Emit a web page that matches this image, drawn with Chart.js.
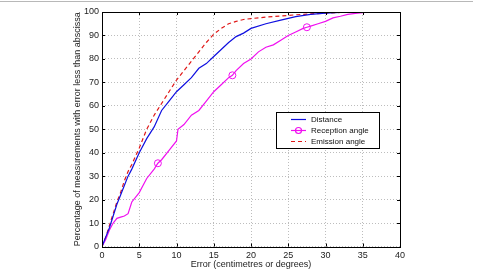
<!DOCTYPE html>
<html lang="en">
<head>
    <meta charset="UTF-8">
    <title>Error distribution</title>
    <script src="https://cdn.jsdelivr.net/npm/chart.js"></script>
    <style>
        html, body {
            margin: 0;
            padding: 0;
            background-color: #fff;
        }
        #chartContainer {
            width: 480px;
            height: 274px;
        }
    </style>
</head>
<body>
    <div id="chartContainer">
        <canvas id="errorChart" width="480" height="274"></canvas>
    </div>

    <script>
        // Values
        const xTicks = [0, 5, 10, 15, 20, 25, 30, 35, 40];
        const yTicks = [0, 10, 20, 30, 40, 50, 60, 70, 80, 90, 100];

        const distanceX = [0, 0.5, 1, 1.5, 2, 2.5, 3, 3.5, 4, 5, 6, 7, 8, 9, 10, 11, 12, 13, 14, 15, 16, 17, 18, 19, 20, 22, 24, 26, 28, 30, 32, 34, 40];
        const distanceY = [0, 4, 8, 13, 18, 22, 26, 30, 33, 40, 46, 51, 58, 62, 66, 69, 72, 76, 78, 81, 84, 87, 89.5, 91, 93, 95, 96.5, 98, 99, 99.5, 99.8, 100, 100];

        const receptionX = [0, 0.5, 1, 1.5, 2, 2.5, 3, 3.5, 4, 5, 6, 7, 7.5, 8, 9, 10, 10.2, 11, 12, 13, 14, 15, 16, 17, 17.5, 18, 19, 20, 21, 22, 23, 24, 25, 26, 27, 27.5, 28, 29, 30, 31, 32, 33, 34, 36, 40];
        const receptionY = [0, 3, 7, 10, 12, 12.5, 13, 14, 19, 23, 29, 33, 35.5, 37, 41, 45, 50, 52, 56, 58, 62, 66, 69, 72, 73, 75, 78, 80, 83, 85, 86, 88, 90, 91.5, 93, 93.5, 94, 95, 96, 97.5, 98.2, 99, 99.4, 100, 100];
        const receptionMarkers = [7.5, 17.5, 27.5];

        const emissionX = [0, 0.5, 1, 1.5, 2, 2.5, 3, 3.5, 4, 5, 6, 7, 8, 9, 10, 11, 12, 13, 14, 15, 16, 17, 18, 19, 20, 22, 24, 26, 28, 30, 32, 34, 40];
        const emissionY = [0, 4, 9, 14, 19, 23, 28, 32, 35, 42, 50, 56, 61, 66, 71, 75, 79, 83, 87, 90.5, 93, 95, 96, 96.8, 97.2, 97.8, 98.3, 98.8, 99.2, 99.5, 99.8, 100, 100];

        const FONT = "'Liberation Sans', Arial, sans-serif";

        function toPoints(xs, ys) {
            return xs.map((x, i) => ({ x: x, y: ys[i] }));
        }

        // Frame, inside tick marks, legend box and the thin top rule
        const framePlugin = {
            id: 'frame',
            beforeDraw(chart) {
                const ctx = chart.ctx;
                ctx.save();
                ctx.strokeStyle = '#b8b8b8';
                ctx.lineWidth = 1;
                ctx.beginPath();
                ctx.moveTo(0, 1.5);
                ctx.lineTo(473, 1.5);
                ctx.stroke();
                ctx.restore();
            },
            afterDraw(chart) {
                const ctx = chart.ctx;
                const a = chart.chartArea;
                const xs = chart.scales.x;
                const ys = chart.scales.y;
                ctx.save();
                ctx.strokeStyle = '#000';
                ctx.lineWidth = 1;
                ctx.strokeRect(Math.round(a.left) + 0.5, Math.round(a.top) + 0.5,
                    Math.round(a.right - a.left), Math.round(a.bottom - a.top));

                ctx.beginPath();
                xTicks.forEach(v => {
                    const px = Math.round(xs.getPixelForValue(v)) + 0.5;
                    ctx.moveTo(px, a.bottom); ctx.lineTo(px, a.bottom - 3);
                    ctx.moveTo(px, a.top); ctx.lineTo(px, a.top + 3);
                });
                yTicks.forEach(v => {
                    const py = Math.round(ys.getPixelForValue(v)) + 0.5;
                    ctx.moveTo(a.left, py); ctx.lineTo(a.left + 3, py);
                    ctx.moveTo(a.right, py); ctx.lineTo(a.right - 3, py);
                });
                ctx.stroke();

                // legend inside the plot
                const lx = 276, ly = 112, lw = 103, lh = 36;
                ctx.fillStyle = '#fff';
                ctx.fillRect(lx, ly, lw, lh);
                ctx.strokeStyle = '#000';
                ctx.strokeRect(lx + 0.5, ly + 0.5, lw, lh);
                ctx.font = '8px ' + FONT;
                ctx.textBaseline = 'middle';
                chart.data.datasets.forEach((ds, i) => {
                    const yy = ly + 7 + i * 11;
                    ctx.strokeStyle = ds.borderColor;
                    ctx.lineWidth = 1.2;
                    ctx.setLineDash(ds.borderDash || []);
                    ctx.beginPath();
                    ctx.moveTo(lx + 15, yy + 0.5);
                    ctx.lineTo(lx + 30, yy + 0.5);
                    ctx.stroke();
                    ctx.setLineDash([]);
                    if (ds.label === 'Reception angle') {
                        ctx.beginPath();
                        ctx.arc(lx + 22.5, yy + 0.5, 3, 0, Math.PI * 2);
                        ctx.stroke();
                    }
                    ctx.fillStyle = '#111';
                    ctx.fillText(ds.label, lx + 35, yy + 1);
                });
                ctx.restore();
            }
        };

        function renderChart() {
            const ctx = document.getElementById('errorChart').getContext('2d');
            new Chart(ctx, {
                type: 'line',
                data: {
                    datasets: [{
                        label: 'Distance',
                        data: toPoints(distanceX, distanceY),
                        borderColor: '#1010e0',
                        borderWidth: 1.2,
                        pointRadius: 0
                    }, {
                        label: 'Reception angle',
                        data: toPoints(receptionX, receptionY),
                        borderColor: '#f010f0',
                        borderWidth: 1.2,
                        pointRadius: c => receptionMarkers.includes(receptionX[c.dataIndex]) ? 3.5 : 0,
                        pointBorderColor: '#f010f0',
                        pointBackgroundColor: 'rgba(0,0,0,0)',
                        pointBorderWidth: 1
                    }, {
                        label: 'Emission angle',
                        data: toPoints(emissionX, emissionY),
                        borderColor: '#e01818',
                        borderDash: [4, 3],
                        borderWidth: 1.2,
                        pointRadius: 0
                    }]
                },
                options: {
                    responsive: false,
                    animation: false,
                    layout: {
                        padding: { left: 68, right: 80, top: 12, bottom: 0 }
                    },
                    elements: { line: { tension: 0 } },
                    scales: {
                        x: {
                            type: 'linear',
                            min: 0,
                            max: 40,
                            afterFit: s => { s.height = 27.5; },
                            afterBuildTicks: s => { s.ticks = xTicks.map(v => ({ value: v })); },
                            grid: {
                                color: '#bdbdbd',
                                drawTicks: false
                            },
                            border: { display: false, dash: [1, 2] },
                            ticks: {
                                padding: 4,
                                maxRotation: 0,
                                color: '#222',
                                font: { family: FONT, size: 9 }
                            },
                            title: {
                                display: true,
                                text: 'Error (centimetres or degrees)',
                                color: '#222',
                                font: { family: FONT, size: 9 },
                                padding: { top: 0, bottom: 4 }
                            }
                        },
                        y: {
                            min: 0,
                            max: 100,
                            afterFit: s => { s.width = 34; },
                            afterBuildTicks: s => { s.ticks = yTicks.map(v => ({ value: v })); },
                            grid: {
                                color: '#bdbdbd',
                                drawTicks: false
                            },
                            border: { display: false, dash: [1, 2] },
                            ticks: {
                                padding: 3,
                                color: '#222',
                                font: { family: FONT, size: 9 }
                            },
                            title: {
                                display: true,
                                text: 'Percentage of measurements with error less than abscissa',
                                color: '#222',
                                font: { family: FONT, size: 9 },
                                padding: { top: 4, bottom: 0 }
                            }
                        }
                    },
                    plugins: {
                        legend: { display: false },
                        tooltip: { enabled: false }
                    }
                },
                plugins: [framePlugin]
            });
        }

        window.onload = renderChart;
    </script>
</body>
</html>
